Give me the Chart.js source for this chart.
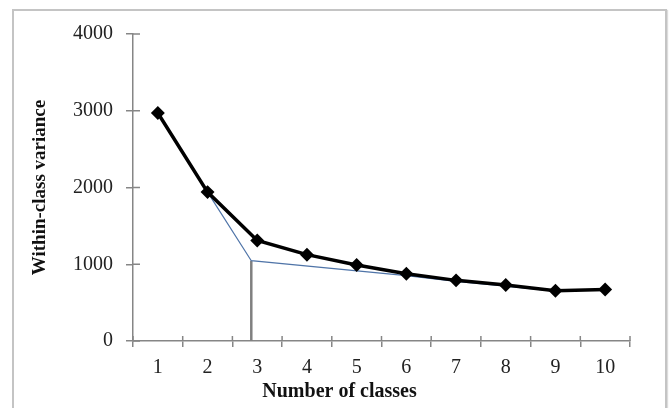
<!DOCTYPE html>
<html>
<head>
<meta charset="utf-8">
<script src="https://cdn.jsdelivr.net/npm/chart.js"></script>
<style>
  html, body { margin: 0; padding: 0; background: #fff; overflow: hidden; }
  #frame { position: absolute; left: 12px; top: 9px; width: 651px; height: 420px; border: 2px solid #c4c4c4; box-shadow: 1px 1px 1px #dcdcdc; }
  #elbow { position: absolute; left: 0; top: 0; }
</style>
</head>
<body>
<div id="frame"></div>
<canvas id="elbow" width="672" height="408"></canvas>
<script>
// within-class variance per number of classes
const classes = ['1', '2', '3', '4', '5', '6', '7', '8', '9', '10'];
const variance = [2970, 1940, 1310, 1125, 990, 875, 790, 730, 655, 670];

// thin guide line through the elbow
const guideX = [1, 2, 2.88, 6, 7, 8, 9];
const guideY = [2970, 1940, 1046, 852, 776, 716, 648];

// vertical marker at the elbow
const markerX = [2.88, 2.88];
const markerY = [0, 1046];

const yTicks = [0, 1000, 2000, 3000, 4000];

const axisGray = '#868686';
const serif = 'Liberation Serif';

// tick marks that cross the axis lines (inner half)
const crossTicks = {
  id: 'crossTicks',
  afterDraw(chart) {
    const ctx = chart.ctx;
    const x = chart.scales.x, y = chart.scales.y;
    ctx.save();
    ctx.strokeStyle = axisGray;
    ctx.lineWidth = 1.5;
    ctx.beginPath();
    y.ticks.forEach(t => {
      const py = y.getPixelForValue(t.value);
      ctx.moveTo(y.right, py);
      ctx.lineTo(y.right + 7, py);
    });
    const n = classes.length;
    for (let i = 0; i <= n; i++) {
      const px = x.left + i * x.width / n;
      ctx.moveTo(px, x.top);
      ctx.lineTo(px, x.top - 5);
    }
    ctx.stroke();
    ctx.restore();
  }
};

new Chart(document.getElementById('elbow'), {
  type: 'line',
  data: {
    labels: classes,
    datasets: [
      {
        data: markerX.map((v, i) => ({ x: v, y: markerY[i] })),
        xAxisID: 'x2',
        borderColor: '#808080',
        borderWidth: 2.5,
        pointRadius: 0,
        order: 3
      },
      {
        data: guideX.map((v, i) => ({ x: v, y: guideY[i] })),
        xAxisID: 'x2',
        borderColor: '#4f74a8',
        borderWidth: 1.2,
        pointRadius: 0,
        order: 2
      },
      {
        data: variance,
        borderColor: '#000',
        borderWidth: 3.5,
        pointStyle: 'rectRot',
        pointRadius: 4.5,
        pointBackgroundColor: '#000',
        pointBorderColor: '#000',
        order: 1
      }
    ]
  },
  options: {
    responsive: false,
    animation: false,
    layout: { padding: { left: 13, right: 6, top: 34, bottom: 0 } },
    plugins: {
      legend: { display: false },
      tooltip: { enabled: false },
      title: {
        display: true,
        position: 'bottom',
        text: 'Number of classes',
        color: '#111',
        font: { family: serif, size: 20, weight: 'bold' },
        padding: { top: 0, bottom: 4 }
      }
    },
    scales: {
      x: {
        type: 'category',
        offset: true,
        afterFit: s => { s.height = 39; },
        grid: { display: true, drawOnChartArea: false, offset: true, tickLength: 6, color: axisGray, lineWidth: 1.5 },
        border: { color: axisGray, width: 1.5 },
        ticks: { color: '#222', padding: 9, font: { family: serif, size: 20 } }
      },
      x2: {
        type: 'linear',
        min: 0.5,
        max: 10.5,
        display: false
      },
      y: {
        min: 0,
        max: 4000,
        afterBuildTicks: s => { s.ticks = yTicks.map(v => ({ value: v })); },
        afterFit: s => { s.width = 120; },
        grid: { display: true, drawOnChartArea: false, tickLength: 7, color: axisGray, lineWidth: 1.5 },
        border: { color: axisGray, width: 1.5 },
        ticks: { color: '#222', padding: 13, font: { family: serif, size: 20 }, callback: v => String(v) },
        title: {
          display: true,
          text: 'Within-class variance',
          color: '#111',
          font: { family: serif, size: 19, weight: 'bold' },
          padding: { top: 16, bottom: 0 }
        }
      },
      y2: {
        position: 'right',
        display: true,
        afterFit: s => { s.width = 36; },
        grid: { display: false },
        border: { display: false },
        ticks: { display: false }
      }
    }
  },
  plugins: [crossTicks]
});
</script>
</body>
</html>
